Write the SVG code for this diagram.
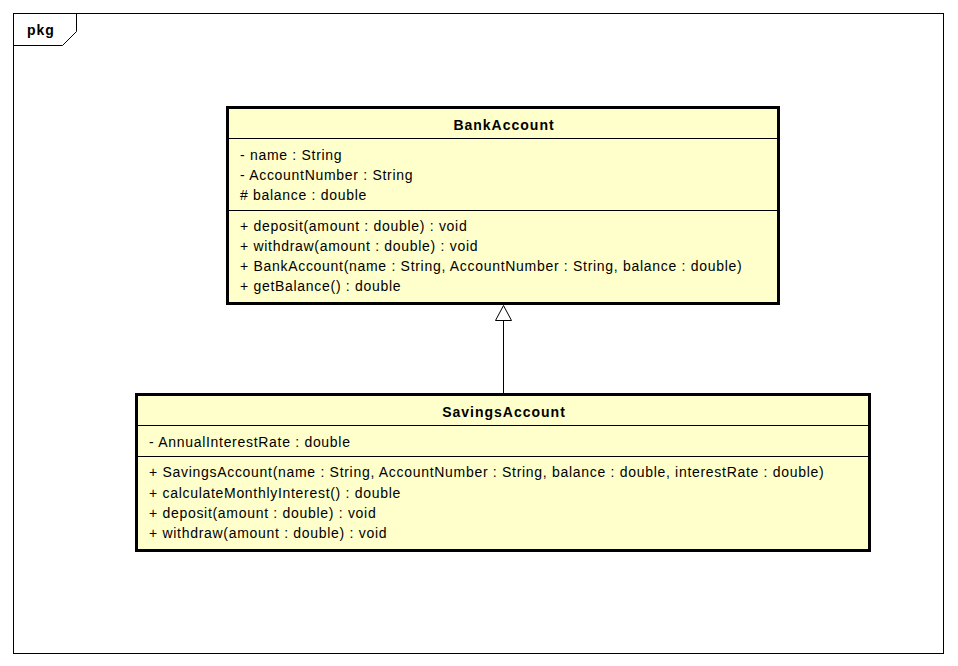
<svg xmlns="http://www.w3.org/2000/svg" width="958" height="666" viewBox="0 0 958 666">
  <style>
    text { font-family: "Liberation Sans", Arial, sans-serif; font-size: 14px; fill: #000; letter-spacing: 0.7px; }
    .title { font-weight: bold; text-anchor: middle; letter-spacing: 1px; }
    .cls { fill: #FFFFCC; stroke: #000; stroke-width: 3; }
    .sep { stroke: #000; stroke-width: 1; }
    .frame { fill: none; stroke: #000; stroke-width: 1; }
  </style>
  <rect width="958" height="666" fill="#fff"/>

  <!-- package frame -->
  <g id="pkg">
    <rect class="frame" x="13.5" y="13.5" width="930" height="640"/>
    <path class="frame" d="M13.5 45.5 H62.5 L76.5 31.5 V13.5"/>
    <text x="27" y="35" style="font-weight:bold; letter-spacing:1px">pkg</text>
  </g>

  <!-- BankAccount class -->
  <g id="BankAccount">
    <rect class="cls" x="227.5" y="107.5" width="551" height="196"/>
    <line class="sep" x1="227" y1="138.5" x2="779" y2="138.5"/>
    <line class="sep" x1="227" y1="210.5" x2="779" y2="210.5"/>
    <text class="title" x="504" y="130">BankAccount</text>
    <text x="240" y="160">- name : String</text>
    <text x="240" y="180">- AccountNumber : String</text>
    <text x="240" y="200"># balance : double</text>
    <text x="240" y="231">+ deposit(amount : double) : void</text>
    <text x="240" y="251">+ withdraw(amount : double) : void</text>
    <text x="240" y="271">+ BankAccount(name : String, AccountNumber : String, balance : double)</text>
    <text x="240" y="291">+ getBalance() : double</text>
  </g>

  <!-- SavingsAccount class -->
  <g id="SavingsAccount">
    <rect class="cls" x="136.5" y="394.5" width="733" height="156"/>
    <line class="sep" x1="136" y1="425.5" x2="870" y2="425.5"/>
    <line class="sep" x1="136" y1="456.5" x2="870" y2="456.5"/>
    <text class="title" x="504" y="417">SavingsAccount</text>
    <text x="149" y="447">- AnnualInterestRate : double</text>
    <text x="149" y="477">+ SavingsAccount(name : String, AccountNumber : String, balance : double, interestRate : double)</text>
    <text x="149" y="498">+ calculateMonthlyInterest() : double</text>
    <text x="149" y="518">+ deposit(amount : double) : void</text>
    <text x="149" y="538">+ withdraw(amount : double) : void</text>
  </g>

  <!-- generalization -->
  <g id="connectors">
    <line x1="503.5" y1="393" x2="503.5" y2="321" stroke="#000" stroke-width="1"/>
    <polygon points="503.5,305.5 495.5,320.5 511.5,320.5" fill="#fff" stroke="#000" stroke-width="1"/>
  </g>
</svg>
